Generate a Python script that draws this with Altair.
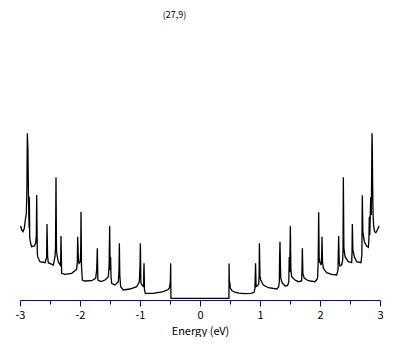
import altair as alt
import pandas as pd

title_text = "(27,9)"
x_label = "Energy (eV)"
x_ticks = [-3, -2.5, -2, -1.5, -1, -0.5, 0, 0.5, 1, 1.5, 2, 2.5, 3]

# (energy in eV, density of states in arbitrary units)
left_branch = [
    (-2.99, 7.4), (-2.972, 7.0), (-2.95, 6.83), (-2.928, 7.17), (-2.912, 8.0), (-2.895, 8.6),
    (-2.885, 11.0), (-2.878, 16.67), (-2.868, 15.07), (-2.858, 10.0), (-2.848, 7.2), (-2.844, 10.33),
    (-2.838, 6.17), (-2.82, 5.6), (-2.806, 5.33), (-2.761, 5.4), (-2.739, 5.67), (-2.728, 6.4),
    (-2.722, 10.5), (-2.712, 4.8), (-2.706, 4.33), (-2.667, 3.83), (-2.583, 3.73), (-2.556, 4.27),
    (-2.55, 7.6), (-2.54, 4.4), (-2.528, 3.73), (-2.444, 3.5), (-2.417, 4.33), (-2.408, 5.2),
    (-2.4, 12.27), (-2.392, 5.0), (-2.383, 4.5), (-2.361, 3.8), (-2.33, 3.5), (-2.322, 4.0),
    (-2.317, 6.4), (-2.306, 2.67), (-2.25, 2.57), (-2.139, 2.67), (-2.056, 3.07), (-2.045, 3.8),
    (-2.039, 6.33), (-2.028, 4.2), (-2.017, 3.67), (-1.995, 3.8), (-1.988, 5.0), (-1.983, 8.83),
    (-1.975, 3.4), (-1.961, 2.0), (-1.917, 1.9), (-1.806, 1.93), (-1.739, 2.17), (-1.722, 3.0),
    (-1.711, 5.17), (-1.702, 2.0), (-1.65, 1.85), (-1.583, 2.0), (-1.528, 2.33), (-1.515, 3.4),
    (-1.506, 7.4), (-1.497, 3.0), (-1.49, 4.3), (-1.482, 2.2), (-1.472, 1.67), (-1.417, 1.5),
    (-1.361, 1.83), (-1.35, 3.0), (-1.344, 5.67), (-1.337, 2.5), (-1.322, 1.33), (-1.278, 1.0),
    (-1.167, 1.1), (-1.056, 1.33), (-1.011, 1.83), (-0.999, 3.5), (-0.994, 5.67), (-0.985, 1.7),
    (-0.96, 1.45), (-0.94, 1.35), (-0.938, 2.5), (-0.933, 3.67), (-0.925, 1.0), (-0.911, 0.67),
    (-0.778, 0.67), (-0.611, 0.83), (-0.53, 1.05), (-0.511, 1.17), (-0.495, 1.8), (-0.489, 3.67),
    (-0.484, 0.17),
]
right_branch = [
    (0.482, 0.17), (0.485, 3.65), (0.49, 1.5), (0.495, 1.83), (0.505, 1.2), (0.53, 0.95),
    (0.58, 0.78), (0.65, 0.68), (0.75, 0.64), (0.85, 0.66), (0.9, 0.77), (0.915, 1.1),
    (0.92, 2.2), (0.926, 3.67), (0.935, 1.35), (0.96, 1.45), (0.98, 1.65), (0.986, 2.6),
    (0.99, 5.67), (1.0, 2.4), (1.011, 2.0), (1.056, 1.5), (1.139, 1.23), (1.278, 1.1),
    (1.31, 1.3), (1.322, 1.8), (1.327, 4.3), (1.333, 5.83), (1.345, 2.2), (1.37, 1.7),
    (1.42, 1.4), (1.46, 1.45), (1.48, 1.8), (1.487, 4.3), (1.495, 2.8), (1.506, 7.4),
    (1.515, 3.0), (1.528, 2.33), (1.583, 2.0), (1.639, 1.83), (1.694, 1.9), (1.7, 3.0),
    (1.706, 5.17), (1.715, 2.6), (1.739, 2.17), (1.806, 1.93), (1.917, 1.83), (1.955, 2.1),
    (1.961, 2.33), (1.97, 3.8), (1.978, 8.77), (1.986, 4.2), (1.994, 3.83), (2.02, 3.5),
    (2.028, 4.5), (2.033, 6.33), (2.042, 3.8), (2.056, 3.17), (2.111, 2.73), (2.194, 2.57),
    (2.278, 2.5), (2.3, 3.0), (2.311, 6.4), (2.32, 3.8), (2.333, 3.4), (2.36, 3.5),
    (2.378, 4.0), (2.384, 5.0), (2.389, 12.27), (2.398, 5.2), (2.417, 4.33), (2.472, 3.83),
    (2.528, 3.73), (2.534, 4.8), (2.539, 7.6), (2.548, 5.0), (2.572, 4.33), (2.611, 3.83),
    (2.683, 3.73), (2.698, 4.5), (2.705, 10.47), (2.715, 6.8), (2.739, 5.83), (2.778, 5.4),
    (2.806, 5.27), (2.815, 6.0), (2.822, 8.33), (2.83, 6.5), (2.845, 10.27), (2.855, 8.5),
    (2.867, 16.67), (2.872, 15.2), (2.877, 11.7), (2.885, 8.5), (2.895, 7.33), (2.91, 6.83),
    (2.93, 6.73), (2.955, 7.0), (2.985, 7.4),
]

rows = [{"energy": e, "dos": d, "order": i}
        for i, (e, d) in enumerate(left_branch + right_branch)]
df = pd.DataFrame(rows)

FONT = "Noto Sans CJK JP"
AXIS_BLUE = "#0000CC"

line = alt.Chart(df).mark_line(color="black", strokeWidth=1.3).encode(
    x=alt.X(
        "energy:Q",
        scale=alt.Scale(domain=[-3, 3], nice=False, zero=False),
        axis=alt.Axis(
            values=x_ticks,
            title=x_label,
            labelExpr="datum.value % 1 === 0 ? toString(datum.value) : ''",
            tickSize={"condition": {"test": "datum.value % 1 === 0", "value": 6}, "value": 4},
            domainColor=AXIS_BLUE,
            tickColor=AXIS_BLUE,
            domainWidth=1,
            tickWidth=1,
            labelColor="black",
            labelFont=FONT,
            labelFontSize=11,
            labelPadding=3,
            titleFont=FONT,
            titleFontSize=11,
            titleFontWeight="normal",
            titleColor="black",
            titlePadding=5,
            grid=False,
            labelFlush=False,
        ),
    ),
    y=alt.Y("dos:Q", scale=alt.Scale(domain=[0, 28]), axis=None),
    order="order:Q",
)

title = alt.Chart(pd.DataFrame({"t": [title_text]})).mark_text(
    font=FONT, fontSize=9, align="center", baseline="top", color="black"
).encode(text="t:N", x=alt.value(154.5), y=alt.value(-9))

chart = alt.layer(line, title).properties(
    width=360,
    height=280,
    autosize=alt.AutoSizeParams(type="none"),
    padding={"left": 12, "top": 12, "right": 9, "bottom": 37},
).configure_view(strokeWidth=0)

chart.save("out.html", embed_options={"renderer": "svg", "actions": False})
